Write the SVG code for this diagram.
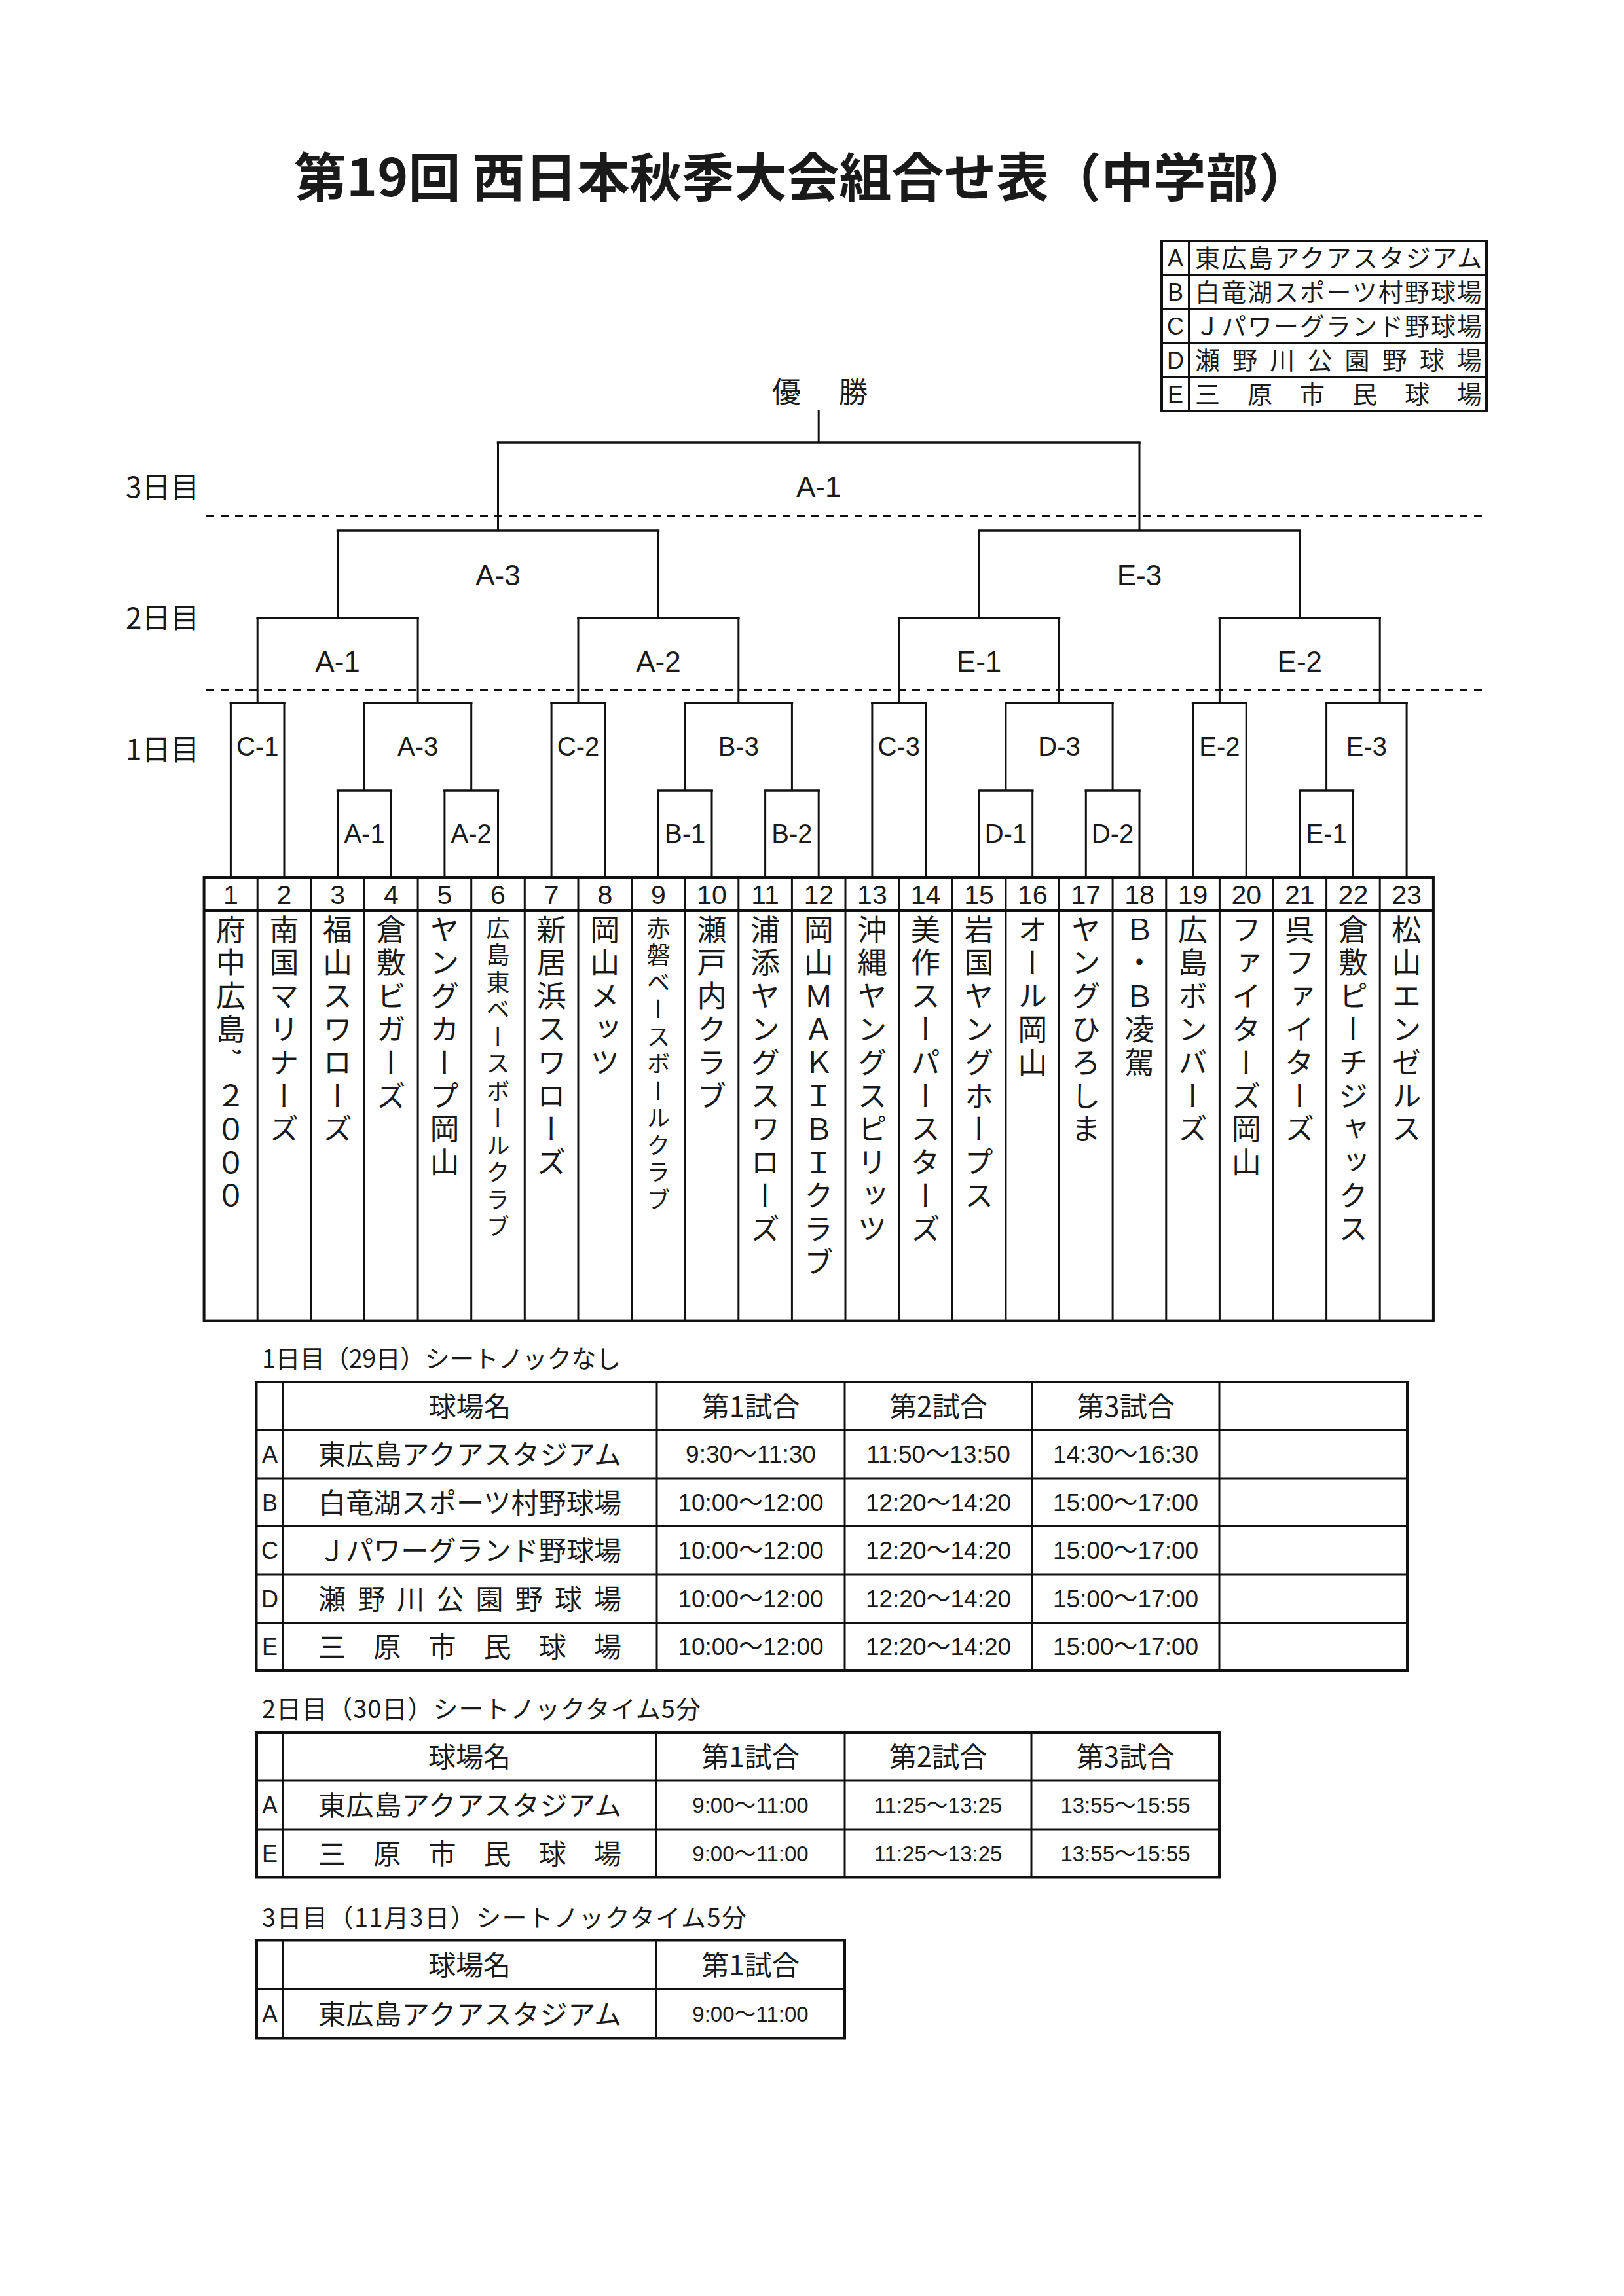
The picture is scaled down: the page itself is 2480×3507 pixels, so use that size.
<svg xmlns="http://www.w3.org/2000/svg" width="2480" height="3507" viewBox="0 0 2480 3507">
<style>
.ln{stroke:#111;fill:none}
.bar{stroke-width:3.6;stroke-linecap:square}
.v{stroke-width:3}
.bd{stroke-width:4}
.in{stroke-width:3}
.dash{stroke:#111;stroke-width:3.3;stroke-dasharray:12 10;fill:none}
.jp{font-family:'Noto Sans CJK JP','Noto Sans CJK SC',sans-serif;fill:#1a1a1a}
.lat{font-family:'Liberation Sans','Noto Sans CJK JP',sans-serif;fill:#1a1a1a}
.mid{text-anchor:middle}
.lbl{font-size:44px}
.lbl1{font-size:40px}
.num{font-size:41px}
.vt{writing-mode:vertical-rl;text-orientation:mixed;font-size:45px;letter-spacing:5.8px}
.vts{writing-mode:vertical-rl;text-orientation:mixed;font-size:36px;letter-spacing:5.5px}
.hd{font-size:42px}
.t1{font-size:37px}
.t2{font-size:33px}
.let{font-size:36px}
.cap{font-size:38px}
</style>
<rect width="2480" height="3507" fill="#ffffff"/>

<g id="title">
<text class="jp" x="449" y="300" font-size="80" font-weight="bold">第19回 西日本秋季大会組合せ表（中学部）</text>
</g>

<g id="legend">
<rect class="ln bd" x="1774" y="368" width="496" height="260"/>
<line class="ln bd" x1="1816" y1="368" x2="1816" y2="628"/>
<line class="ln in" x1="1774" y1="420" x2="2270" y2="420"/>
<line class="ln in" x1="1774" y1="472" x2="2270" y2="472"/>
<line class="ln in" x1="1774" y1="524" x2="2270" y2="524"/>
<line class="ln in" x1="1774" y1="576" x2="2270" y2="576"/>
<text class="lat let mid" x="1795" y="407">A</text>
<text class="lat let mid" x="1795" y="459">B</text>
<text class="lat let mid" x="1795" y="511">C</text>
<text class="lat let mid" x="1795" y="563">D</text>
<text class="lat let mid" x="1795" y="615">E</text>
<text class="jp" x="1825" y="408" font-size="38" textLength="438" lengthAdjust="spacing">東広島アクアスタジアム</text>
<text class="jp" x="1825" y="460" font-size="38" textLength="438" lengthAdjust="spacing">白竜湖スポーツ村野球場</text>
<text class="jp" x="1825" y="512" font-size="38" textLength="438" lengthAdjust="spacing">Ｊパワーグランド野球場</text>
<text class="jp" x="1825" y="564" font-size="38" textLength="438" lengthAdjust="spacing">瀬 野 川 公 園 野 球 場</text>
<text class="jp" x="1825" y="616" font-size="38" textLength="438" lengthAdjust="spacing">三 原 市 民 球 場</text>
</g>

<g id="day-labels">
<text class="jp" x="192" y="760" font-size="44">3日目</text>
<text class="jp" x="192" y="960" font-size="44">2日目</text>
<text class="jp" x="192" y="1161" font-size="44">1日目</text>
<line class="dash" x1="315" y1="788" x2="2271" y2="788"/>
<line class="dash" x1="315" y1="1054" x2="2271" y2="1054"/>
</g>

<g id="champion">
<text class="jp" x="1179" y="615" font-size="44" letter-spacing="7">優　勝</text>
</g>

<g id="connectors">
<path class="ln v" d="M1250.2 626V676 M760.5 676V810 M1740 676V810 M515.6 810V944 M1005.4 810V944 M1495.1 810V944 M1984.8 810V944 M393.2 944V1074 M638.1 944V1074 M883 944V1074 M1127.8 944V1074 M1372.7 944V1074 M1617.5 944V1074 M1862.4 944V1074 M2107.2 944V1074 M556.5 1074V1207 M719.7 1074V1207 M1046.2 1074V1207 M1209.4 1074V1207 M1535.9 1074V1207 M1699.1 1074V1207 M2025.6 1074V1207 M352.4 1074V1340 M434 1074V1340 M842.1 1074V1340 M923.8 1074V1340 M1331.9 1074V1340 M1413.5 1074V1340 M1821.6 1074V1340 M1903.2 1074V1340 M2148.1 1074V1340 M515.6 1207V1340 M597.3 1207V1340 M678.9 1207V1340 M760.5 1207V1340 M1005.4 1207V1340 M1087 1207V1340 M1168.6 1207V1340 M1250.2 1207V1340 M1495.1 1207V1340 M1576.7 1207V1340 M1658.3 1207V1340 M1740 1207V1340 M1984.8 1207V1340 M2066.4 1207V1340"/>
<path class="ln bar" d="M760.5 676H1740 M515.6 810H1005.4 M1495.1 810H1984.8 M393.2 944H638.1 M883 944H1127.8 M1372.7 944H1617.5 M1862.4 944H2107.2 M352.4 1074H434 M556.5 1074H719.7 M842.1 1074H923.8 M1046.2 1074H1209.4 M1331.9 1074H1413.5 M1535.9 1074H1699.1 M1821.6 1074H1903.2 M2025.6 1074H2148.1 M515.6 1207H597.3 M678.9 1207H760.5 M1005.4 1207H1087 M1168.6 1207H1250.2 M1495.1 1207H1576.7 M1658.3 1207H1740 M1984.8 1207H2066.4"/>
</g>

<g id="match-labels">
<text class="lat lbl mid" x="1250.2" y="759">A-1</text>
<text class="lat lbl mid" x="760.5" y="894">A-3</text>
<text class="lat lbl mid" x="1740" y="894">E-3</text>
<text class="lat lbl mid" x="515.6" y="1026">A-1</text>
<text class="lat lbl mid" x="1005.4" y="1026">A-2</text>
<text class="lat lbl mid" x="1495.1" y="1026">E-1</text>
<text class="lat lbl mid" x="1984.8" y="1026">E-2</text>
<text class="lat lbl1 mid" x="393.2" y="1154">C-1</text>
<text class="lat lbl1 mid" x="638.1" y="1154">A-3</text>
<text class="lat lbl1 mid" x="883" y="1154">C-2</text>
<text class="lat lbl1 mid" x="1127.8" y="1154">B-3</text>
<text class="lat lbl1 mid" x="1372.7" y="1154">C-3</text>
<text class="lat lbl1 mid" x="1617.5" y="1154">D-3</text>
<text class="lat lbl1 mid" x="1862.4" y="1154">E-2</text>
<text class="lat lbl1 mid" x="2086.9" y="1154">E-3</text>
<text class="lat lbl1 mid" x="556.5" y="1287">A-1</text>
<text class="lat lbl1 mid" x="719.7" y="1287">A-2</text>
<text class="lat lbl1 mid" x="1046.2" y="1287">B-1</text>
<text class="lat lbl1 mid" x="1209.4" y="1287">B-2</text>
<text class="lat lbl1 mid" x="1535.9" y="1287">D-1</text>
<text class="lat lbl1 mid" x="1699.1" y="1287">D-2</text>
<text class="lat lbl1 mid" x="2025.6" y="1287">E-1</text>
</g>

<g id="team-grid">
<rect class="ln bd" x="311.6" y="1340" width="1877.3" height="677.6"/>
<line class="ln bd" x1="311.6" y1="1391" x2="2188.9" y2="1391"/>
<path class="ln v" d="M393.2 1340V2017.6 M474.8 1340V2017.6 M556.5 1340V2017.6 M638.1 1340V2017.6 M719.7 1340V2017.6 M801.3 1340V2017.6 M883 1340V2017.6 M964.6 1340V2017.6 M1046.2 1340V2017.6 M1127.8 1340V2017.6 M1209.4 1340V2017.6 M1291 1340V2017.6 M1372.7 1340V2017.6 M1454.3 1340V2017.6 M1535.9 1340V2017.6 M1617.5 1340V2017.6 M1699.1 1340V2017.6 M1780.8 1340V2017.6 M1862.4 1340V2017.6 M1944 1340V2017.6 M2025.6 1340V2017.6 M2107.2 1340V2017.6"/>
</g>

<g id="team-1"><text class="lat num mid" x="352.4" y="1381">1</text><text class="jp vt" x="352.4" y="1397">府中広島’<tspan y="1650.5">２０００</tspan></text></g>
<g id="team-2"><text class="lat num mid" x="434" y="1381">2</text><text class="jp vt" x="434" y="1397">南国マリナーズ</text></g>
<g id="team-3"><text class="lat num mid" x="515.6" y="1381">3</text><text class="jp vt" x="515.6" y="1397">福山スワローズ</text></g>
<g id="team-4"><text class="lat num mid" x="597.3" y="1381">4</text><text class="jp vt" x="597.3" y="1397">倉敷ビガーズ</text></g>
<g id="team-5"><text class="lat num mid" x="678.9" y="1381">5</text><text class="jp vt" x="678.9" y="1397">ヤングカープ岡山</text></g>
<g id="team-6"><text class="lat num mid" x="760.5" y="1381">6</text><text class="jp vts" x="760.5" y="1399">広島東ベースボールクラブ</text></g>
<g id="team-7"><text class="lat num mid" x="842.1" y="1381">7</text><text class="jp vt" x="842.1" y="1397">新居浜スワローズ</text></g>
<g id="team-8"><text class="lat num mid" x="923.8" y="1381">8</text><text class="jp vt" x="923.8" y="1397">岡山メッツ</text></g>
<g id="team-9"><text class="lat num mid" x="1005.4" y="1381">9</text><text class="jp vts" x="1005.4" y="1399">赤磐ベースボールクラブ</text></g>
<g id="team-10"><text class="lat num mid" x="1087" y="1381">10</text><text class="jp vt" x="1087" y="1397">瀬戸内クラブ</text></g>
<g id="team-11"><text class="lat num mid" x="1168.6" y="1381">11</text><text class="jp vt" x="1168.6" y="1397">浦添ヤングスワローズ</text></g>
<g id="team-12"><text class="lat num mid" x="1250.2" y="1381">12</text><text class="jp vt" x="1250.2" y="1397">岡山ＭＡＫＩＢＩクラブ</text></g>
<g id="team-13"><text class="lat num mid" x="1331.9" y="1381">13</text><text class="jp vt" x="1331.9" y="1397">沖縄ヤングスピリッツ</text></g>
<g id="team-14"><text class="lat num mid" x="1413.5" y="1381">14</text><text class="jp vt" x="1413.5" y="1397">美作スーパースターズ</text></g>
<g id="team-15"><text class="lat num mid" x="1495.1" y="1381">15</text><text class="jp vt" x="1495.1" y="1397">岩国ヤングホープス</text></g>
<g id="team-16"><text class="lat num mid" x="1576.7" y="1381">16</text><text class="jp vt" x="1576.7" y="1397">オール岡山</text></g>
<g id="team-17"><text class="lat num mid" x="1658.3" y="1381">17</text><text class="jp vt" x="1658.3" y="1397">ヤングひろしま</text></g>
<g id="team-18"><text class="lat num mid" x="1740" y="1381">18</text><text class="jp vt" x="1740" y="1397">Ｂ・Ｂ凌駕</text></g>
<g id="team-19"><text class="lat num mid" x="1821.6" y="1381">19</text><text class="jp vt" x="1821.6" y="1397">広島ボンバーズ</text></g>
<g id="team-20"><text class="lat num mid" x="1903.2" y="1381">20</text><text class="jp vt" x="1903.2" y="1397">ファイターズ岡山</text></g>
<g id="team-21"><text class="lat num mid" x="1984.8" y="1381">21</text><text class="jp vt" x="1984.8" y="1397">呉ファイターズ</text></g>
<g id="team-22"><text class="lat num mid" x="2066.4" y="1381">22</text><text class="jp vt" x="2066.4" y="1397">倉敷ピーチジャックス</text></g>
<g id="team-23"><text class="lat num mid" x="2148.1" y="1381">23</text><text class="jp vt" x="2148.1" y="1397">松山エンゼルス</text></g>

<g id="schedule-day1">
<text class="jp cap" x="400" y="2089" textLength="548" lengthAdjust="spacing">1日目（29日）シートノックなし</text>
<rect class="ln bd" x="391.5" y="2111" width="1757.5" height="441"/>
<path class="ln in" d="M391.5 2184.5H2149 M391.5 2258H2149 M391.5 2331.5H2149 M391.5 2405H2149 M391.5 2478.5H2149 M432 2111V2552 M1003 2111V2552 M1290 2111V2552 M1576 2111V2552 M1862 2111V2552"/>
<text class="jp hd mid" x="717.5" y="2164">球場名</text>
<text class="jp hd mid" x="1146.5" y="2164">第1試合</text>
<text class="jp hd mid" x="1433" y="2164">第2試合</text>
<text class="jp hd mid" x="1719" y="2164">第3試合</text>
<text class="lat let mid" x="412" y="2234">A</text>
<text class="lat let mid" x="412" y="2307.5">B</text>
<text class="lat let mid" x="412" y="2381">C</text>
<text class="lat let mid" x="412" y="2454.5">D</text>
<text class="lat let mid" x="412" y="2528">E</text>
<text class="jp hd" x="486" y="2237" textLength="463" lengthAdjust="spacing">東広島アクアスタジアム</text>
<text class="jp hd" x="486" y="2310.5" textLength="463" lengthAdjust="spacing">白竜湖スポーツ村野球場</text>
<text class="jp hd" x="486" y="2384" textLength="463" lengthAdjust="spacing">Ｊパワーグランド野球場</text>
<text class="jp hd" x="486" y="2457.5" textLength="463" lengthAdjust="spacing">瀬 野 川 公 園 野 球 場</text>
<text class="jp hd" x="486" y="2531" textLength="463" lengthAdjust="spacing">三 原 市 民 球 場</text>
<text class="lat t1 mid" x="1146.5" y="2234">9:30～11:30</text>
<text class="lat t1 mid" x="1433" y="2234">11:50～13:50</text>
<text class="lat t1 mid" x="1719" y="2234">14:30～16:30</text>
<text class="lat t1 mid" x="1146.5" y="2307.5">10:00～12:00</text>
<text class="lat t1 mid" x="1433" y="2307.5">12:20～14:20</text>
<text class="lat t1 mid" x="1719" y="2307.5">15:00～17:00</text>
<text class="lat t1 mid" x="1146.5" y="2381">10:00～12:00</text>
<text class="lat t1 mid" x="1433" y="2381">12:20～14:20</text>
<text class="lat t1 mid" x="1719" y="2381">15:00～17:00</text>
<text class="lat t1 mid" x="1146.5" y="2454.5">10:00～12:00</text>
<text class="lat t1 mid" x="1433" y="2454.5">12:20～14:20</text>
<text class="lat t1 mid" x="1719" y="2454.5">15:00～17:00</text>
<text class="lat t1 mid" x="1146.5" y="2528">10:00～12:00</text>
<text class="lat t1 mid" x="1433" y="2528">12:20～14:20</text>
<text class="lat t1 mid" x="1719" y="2528">15:00～17:00</text>
</g>

<g id="schedule-day2">
<text class="jp cap" x="400" y="2624" textLength="670" lengthAdjust="spacing">2日目（30日）シートノックタイム5分</text>
<rect class="ln bd" x="392" y="2646" width="1470" height="221.5"/>
<path class="ln in" d="M392 2720H1862 M392 2794H1862 M432 2646V2867.5 M1002 2646V2867.5 M1290 2646V2867.5 M1575 2646V2867.5"/>
<text class="jp hd mid" x="717" y="2699">球場名</text>
<text class="jp hd mid" x="1146" y="2699">第1試合</text>
<text class="jp hd mid" x="1432.5" y="2699">第2試合</text>
<text class="jp hd mid" x="1718.5" y="2699">第3試合</text>
<text class="lat let mid" x="412" y="2770">A</text>
<text class="lat let mid" x="412" y="2844">E</text>
<text class="jp hd" x="486" y="2773" textLength="463" lengthAdjust="spacing">東広島アクアスタジアム</text>
<text class="jp hd" x="486" y="2847" textLength="463" lengthAdjust="spacing">三 原 市 民 球 場</text>
<text class="lat t2 mid" x="1146" y="2769">9:00～11:00</text>
<text class="lat t2 mid" x="1432.5" y="2769">11:25～13:25</text>
<text class="lat t2 mid" x="1718.5" y="2769">13:55～15:55</text>
<text class="lat t2 mid" x="1146" y="2843">9:00～11:00</text>
<text class="lat t2 mid" x="1432.5" y="2843">11:25～13:25</text>
<text class="lat t2 mid" x="1718.5" y="2843">13:55～15:55</text>
</g>

<g id="schedule-day3">
<text class="jp cap" x="400" y="2943" textLength="740" lengthAdjust="spacing">3日目（11月3日）シートノックタイム5分</text>
<rect class="ln bd" x="392" y="2963.5" width="898" height="150"/>
<path class="ln in" d="M392 3038.5H1290 M432 2963.5V3113.5 M1002 2963.5V3113.5"/>
<text class="jp hd mid" x="717" y="3017">球場名</text>
<text class="jp hd mid" x="1146" y="3017">第1試合</text>
<text class="lat let mid" x="412" y="3089">A</text>
<text class="jp hd" x="486" y="3092" textLength="463" lengthAdjust="spacing">東広島アクアスタジアム</text>
<text class="lat t2 mid" x="1146" y="3088">9:00～11:00</text>
</g>
</svg>
